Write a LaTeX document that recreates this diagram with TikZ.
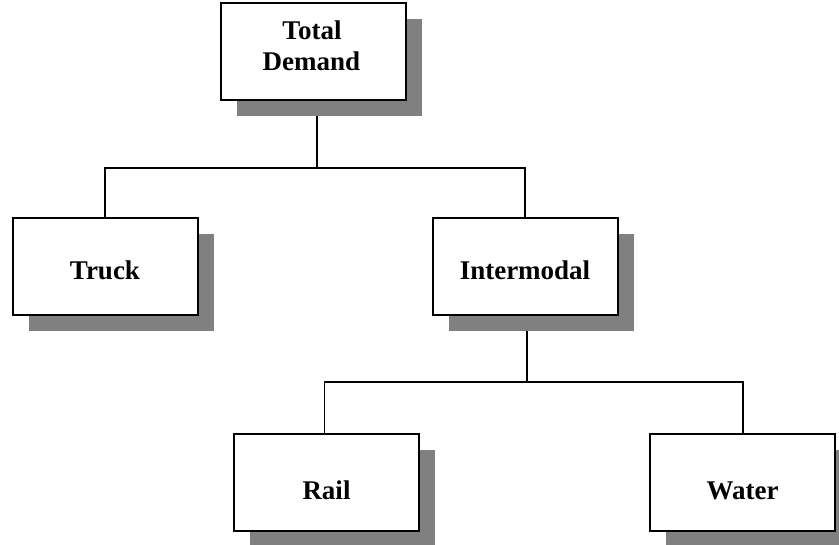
\documentclass[tikz,border=0pt]{standalone}
\usepackage{fontspec}
\setmainfont{Liberation Serif}
\usetikzlibrary{shadows,backgrounds}
\definecolor{shd}{RGB}{128,128,128}
\begin{document}
\begin{tikzpicture}[x=1pt,y=-1pt,
  box/.style={draw=black, line width=2pt, fill=white, minimum width=185pt,
    minimum height=97pt, inner sep=0pt,
    drop shadow={shadow xshift=16pt, shadow yshift=-16pt, opacity=1, fill=shd}},
  lbl/.style={font=\fontsize{27}{31}\selectfont\bfseries, anchor=base, inner sep=0pt},
  conn/.style={draw=black, line width=1.6pt}]
\useasboundingbox (0,0) rectangle (839,545);
% boxes
\node[box] (td) at (313.3,52) {};
\node[box] (tr) at (105,266.7) {};
\node[box] (im) at (525,266.7) {};
\node[box] (ra) at (326.7,483) {};
\node[box] (wa) at (742,483) {};
% labels
\node[lbl] (tdl1) at (312,40) {Total};
\node[lbl] (tdl2) at (311.5,71) {Demand};
\node[lbl] (trl) at (105,279.5) {Truck};
\node[lbl] (iml) at (525,279.5) {Intermodal};
\node[lbl] (ral) at (326.5,500) {Rail};
\node[lbl] (wal) at (742.5,500) {Water};
% junctions
\coordinate (j1) at (316.7,168.3);
\coordinate (j1l) at (105,168.3);
\coordinate (j1r) at (525,168.3);
\coordinate (j2) at (526.7,382.3);
\coordinate (j2l) at (324.3,382.3);
\coordinate (j2r) at (742.7,382.3);
\begin{pgfonlayer}{background}
\draw[conn] (td.south -| j1) -- (j1);
\draw[conn] (tr.north) -- (j1l) -- (j1r) -- (im.north);
\draw[conn] (im.south -| j2) -- (j2);
\draw[conn] (ra.north -| j2l) -- (j2l) -- (j2r) -- (wa.north -| j2r);
\end{pgfonlayer}
\end{tikzpicture}
\end{document}
